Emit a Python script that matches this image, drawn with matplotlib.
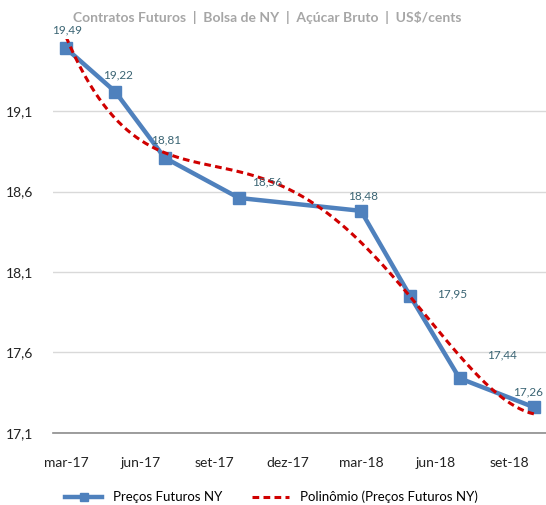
import matplotlib.pyplot as plt
import matplotlib.dates as mdates
import numpy as np
import datetime as dt

plt.rcParams['font.family'] = ['Lato', 'DejaVu Sans']

# Contratos (meses de vencimento) e precos
months = [dt.date(2017, 3, 1), dt.date(2017, 5, 1), dt.date(2017, 7, 1), dt.date(2017, 10, 1),
          dt.date(2018, 3, 1), dt.date(2018, 5, 1), dt.date(2018, 7, 1), dt.date(2018, 10, 1)]
prices = [19.49, 19.22, 18.81, 18.56, 18.48, 17.95, 17.44, 17.26]
# deslocamento dos rotulos (pixels)
label_offsets = [(1, 18), (3, 17), (2, 18), (28, 16), (2, 15), (42, 2), (42, 23), (-6, 15)]

tick_dates = [dt.date(2017, 3, 1), dt.date(2017, 6, 1), dt.date(2017, 9, 1), dt.date(2017, 12, 1),
              dt.date(2018, 3, 1), dt.date(2018, 6, 1), dt.date(2018, 9, 1)]
tick_labels = ['mar-17', 'jun-17', 'set-17', 'dez-17', 'mar-18', 'jun-18', 'set-18']
y_ticks = [17.1, 17.6, 18.1, 18.6, 19.1]

blue = '#4f81bd'
red = '#d00000'

xnum = mdates.date2num(months)
x0 = xnum[0]

fig = plt.figure(figsize=(5.46, 5.05), dpi=100)
ax = fig.add_axes([53 / 546, 0.1426, 1 - 53 / 546, 0.781])

ax.plot(xnum, prices, color=blue, lw=3.2, marker='s', markersize=8,
        label='Preços Futuros NY', zorder=2)

# linha de tendencia polinomial (ordem 4)
xs = np.linspace(xnum[0], xnum[-1], 300)
coef = np.polyfit(xnum - x0, prices, 4)
ax.plot(xs, np.polyval(coef, xs - x0), color=red, lw=2.2, ls=(0, (2.2, 1.4)),
        label='Polinômio (Preços Futuros NY)', zorder=3)

for x, p, (dx, dy) in zip(xnum, prices, label_offsets):
    ax.annotate(f'{p:.2f}'.replace('.', ','), (x, p), xytext=(dx, dy),
                textcoords='offset pixels', ha='center', va='center',
                fontsize=8.5, color='#3a6473', zorder=5)

ax.set_xlim(mdates.date2num(dt.date(2017, 2, 13)), mdates.date2num(dt.date(2018, 10, 16)))
ax.set_ylim(17.1, 19.55)
ax.set_xticks(mdates.date2num(tick_dates))
ax.set_xticklabels(tick_labels)
ax.set_yticks(y_ticks)
ax.set_yticklabels([f'{v:.1f}'.replace('.', ',') for v in y_ticks])
ax.tick_params(length=0, labelsize=10, colors='#222222')
ax.tick_params(axis='x', pad=17)
ax.tick_params(axis='y', pad=14)
ax.grid(axis='y', color='#d9d9d9', lw=1)
ax.set_axisbelow(True)
for s in ['top', 'right', 'left']:
    ax.spines[s].set_visible(False)
ax.spines['bottom'].set_color('#8c8c8c')
ax.spines['bottom'].set_linewidth(1.2)

fig.text(0.489, 0.966, 'Contratos Futuros  |  Bolsa de NY  |  Açúcar Bruto  |  US$/cents',
         ha='center', va='center', fontsize=10, fontweight='bold', color='#a6a6a6')

leg = fig.legend(loc='center', bbox_to_anchor=(0.497, 0.016), ncol=2, frameon=False,
                 fontsize=9.5, handlelength=2.8, columnspacing=2.3, markerscale=0.8)

fig.savefig('out.png', dpi=100)
